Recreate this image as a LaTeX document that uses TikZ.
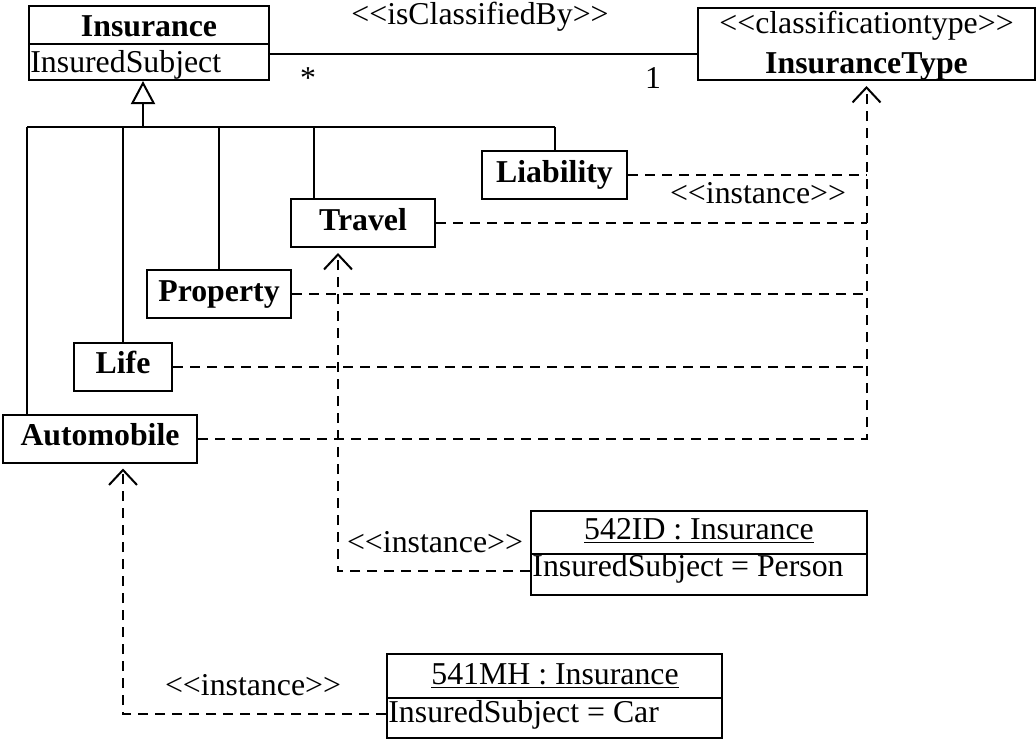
\documentclass[tikz,border=0pt]{standalone}
\usepackage{fontspec}
\setmainfont{Liberation Serif}
\usepackage{tikz}
\usetikzlibrary{calc}
\usetikzlibrary{arrows.meta,shapes}

\newcommand{\umlfont}{\fontsize{15.9}{19}\selectfont}
\newcommand{\stereo}[1]{<\kern0pt<#1>\kern0pt>}

\tikzset{
  umlline/.style={line width=1pt},
  classbox/.style={draw, line width=1pt, font=\umlfont\bfseries, minimum height=24pt,
    text height=10.9pt, text depth=3.5pt, inner sep=0pt},
  objbox/.style={draw, line width=1pt, minimum width=168pt, minimum height=42pt, inner sep=0pt},
  txt/.style={inner sep=0pt},
  realize/.style={line width=1pt, dash pattern=on 5pt off 3.5pt},
  instof/.style={realize, -{Straight Barb[length=7.5pt,width=14pt]}, shorten >=2.5pt},
}

\begin{document}
\begin{tikzpicture}[x=0.5pt, y=-0.5pt, font=\umlfont]
      \useasboundingbox (0,0) rectangle (1036,740);

      % Insurance and its classification type
      \node[draw, line width=1pt, minimum width=120pt, minimum height=37pt, inner sep=0pt] (ins) at (149,43) {};
      \draw[umlline] (ins.west |- 0,44) -- (ins.east |- 0,44);
      \node[txt, font=\umlfont\bfseries, anchor=base] (insname) at (149,36) {Insurance};
      \node[txt, anchor=base west] (insattr) at (30,72) {InsuredSubject};

      \node[draw, line width=1pt, minimum width=168.5pt, minimum height=36pt, inner sep=0pt] (itype) at (866.5,44) {};
      \node[txt, anchor=base] (itypest) at (866.5,33) {\stereo{classificationtype}};
      \node[txt, font=\umlfont\bfseries, anchor=base] (itypename) at (866.5,73) {InsuranceType};

      \draw[umlline] (ins.east |- 0,54) -- (itype.west |- 0,54);
      \node[txt, anchor=base] (assoc) at (480,24) {\stereo{isClassifiedBy}};
      \node[txt] (multins) at (308,78) {*};
      \node[txt, anchor=base] (multtype) at (653,88) {1};

      % subclasses
      \node[classbox, minimum width=72.5pt] (liab) at (554.5,175) {Liability};
      \node[classbox, minimum width=72pt] (trav) at (363,223) {Travel};
      \node[classbox, minimum width=72pt] (prop) at (219,294) {Property};
      \node[classbox, minimum width=49pt] (life) at (123,366.5) {Life};
      \node[classbox, minimum width=97pt] (auto) at (100,438.5) {Automobile};

      \coordinate (hub) at (143,127);
      \draw[umlline, -{Triangle[open,length=11.5pt,width=12pt]}] (hub) -- (hub |- ins.south);
      \draw[umlline] (27,127) -- (555,127);
      \foreach \x/\sub in {27/auto,123/life,219/prop,314/trav,555/liab}
        \draw[umlline] (\x,127) -- (\x,0 |- \sub.north);

      \foreach \sub in {liab,trav,prop,life}
        \draw[realize] (\sub.east) -- (\sub.east -| itype.south);
      \draw[instof] (auto.east) -| (itype.south);
      \node[txt, anchor=base] (insttype) at (758,203) {\stereo{instance}};

      % objects
      \node[objbox] (obj542) at (699,553) {};
      \draw[umlline] (obj542.west |- 0,554) -- (obj542.east |- 0,554);
      \node[txt, anchor=base] (obj542name) at (699,539) {\underline{542ID : Insurance}};
      \node[txt, anchor=base west] (obj542attr) at (532,576) {InsuredSubject = Person};

      \node[objbox, minimum width=167.5pt] (obj541) at (554.5,696) {};
      \draw[umlline] (obj541.west |- 0,698) -- (obj541.east |- 0,698);
      \node[txt, anchor=base] (obj541name) at (555,684) {\underline{541MH : Insurance}};
      \node[txt, anchor=base west] (obj541attr) at (388,722) {InsuredSubject = Car};

      \draw[instof] (obj542.west |- 0,571) -| ([xshift=-12.5pt]trav.south);
      \node[txt, anchor=base] (inst542) at (435,552) {\stereo{instance}};
      \draw[instof] (obj541.west |- 0,714) -| ([xshift=11.5pt]auto.south);
      \node[txt, anchor=base] (inst541) at (253,695) {\stereo{instance}};
    \end{tikzpicture}
\end{document}
